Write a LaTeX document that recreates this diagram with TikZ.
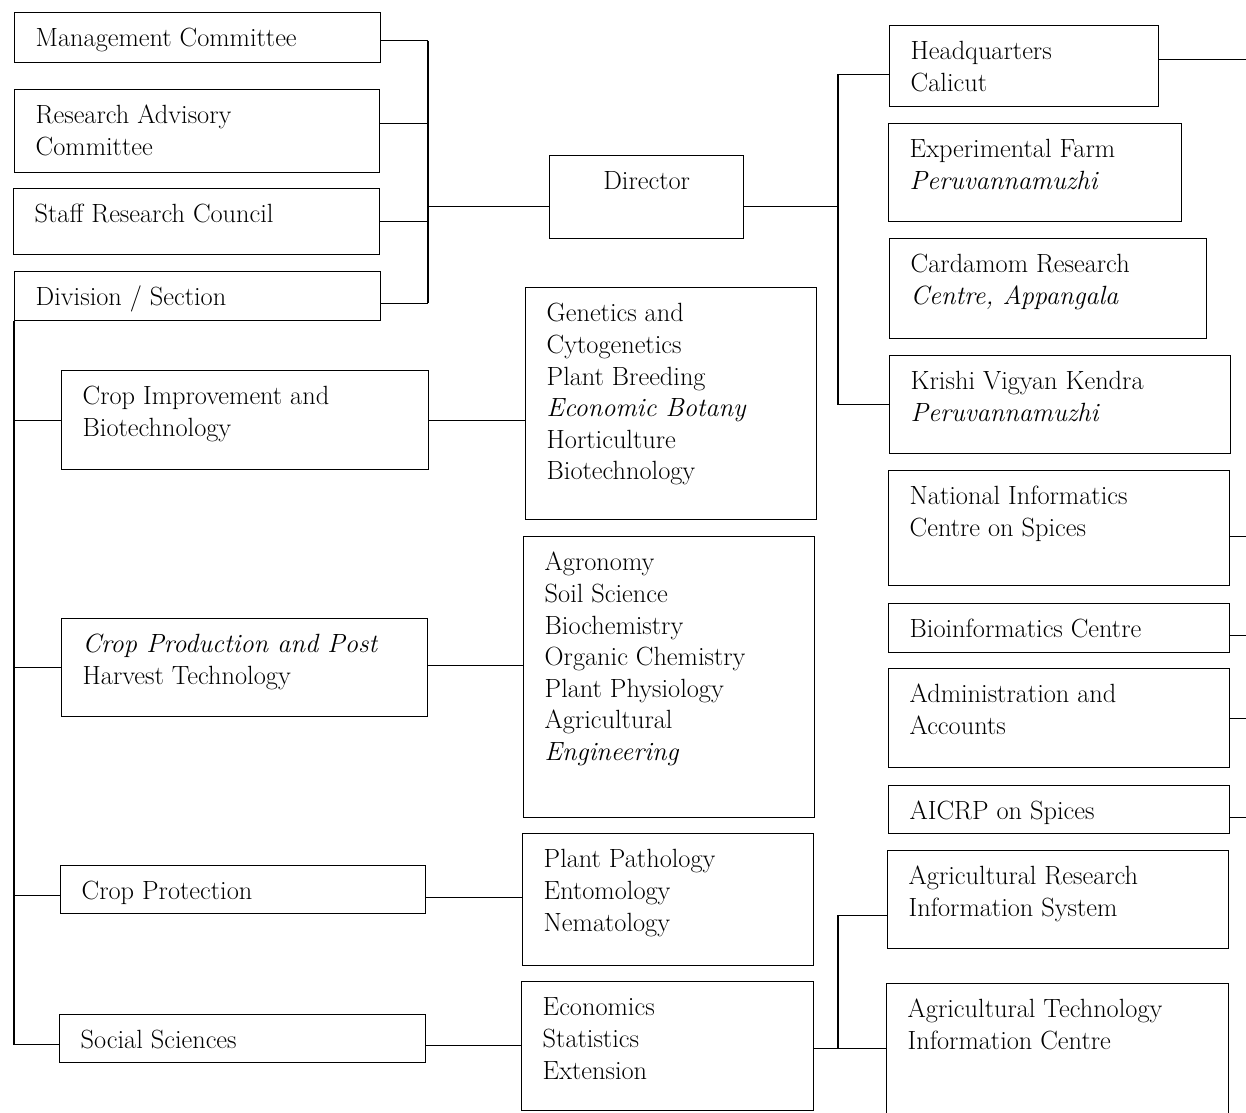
\documentclass[tikz,border=0pt]{standalone}
\usepackage{fontspec}
\usepackage{tikz}
\newdimen\px \px=0.02cm
\newcommand{\inbox}[3]{\parbox[t][#2\px][t]{#1\px}{\vspace*{12\px}\raggedright\leftskip=21\px\relax\strut#3}}
\tikzset{box/.style={draw, anchor=north west, inner sep=0pt, font=\fontsize{15}{18}\selectfont\addfontfeatures{LetterSpace=5}}}
\begin{document}
\begin{tikzpicture}[x=0.02cm, y=-0.02cm, line width=0.8pt]
\clip (0,0) rectangle (1246,1112);
% boxes: name / left / top / width / height / text
\foreach \n/\bx/\by/\bw/\bh/\txt in {
  mc/14/12/366/50/{Management Committee},
  rac/14/89/365/83/{Research Advisory\\Committee},
  src/13/188/366/66/{Staff Research Council},
  ds/14/271/366/49/{Division / Section},
  cib/61/370/367/99/{Crop Improvement and\\Biotechnology},
  cppht/61/618/366/98/{\textit{Crop Production and Post}\\Harvest Technology},
  cpr/60/865/365/48/{Crop Protection},
  ss/59/1014/366/48/{Social Sciences},
  gc/525/287/291/232/{Genetics and\\Cytogenetics\\Plant Breeding\\\textit{Economic Botany}\\Horticulture\\Biotechnology},
  cp/523/536/291/281/{Agronomy\\Soil Science\\Biochemistry\\Organic Chemistry\\Plant Physiology\\Agricultural\\\textit{Engineering}},
  pp/522/833/291/132/{Plant Pathology\\Entomology\\Nematology},
  econ/521/981/292/129/{Economics\\Statistics\\Extension},
  hq/889/25/269/81/{Headquarters\\Calicut},
  ef/888/123/293/98/{Experimental Farm\\\textit{Peruvannamuzhi}},
  crc/889/238/317/100/{Cardamom Research\\\textit{Centre, Appangala}},
  kvk/889/355/341/98/{Krishi Vigyan Kendra\\\textit{Peruvannamuzhi}},
  nics/888/470/341/115/{National Informatics\\Centre on Spices},
  bc/888/603/341/49/{Bioinformatics Centre},
  aa/888/668/341/99/{Administration and\\Accounts},
  aicrp/888/785/341/48/{AICRP on Spices},
  aris/887/850/341/98/{Agricultural Research\\Information System},
  atic/886/983/342/160/{Agricultural Technology\\Information Centre}}
  \node[box] (\n) at (\bx,\by) {\inbox{\bw}{\bh}{\txt}};
\node[box] (dir) at (549,155) {\parbox[t][83\px][t]{194\px}{\vspace*{12\px}\centering\strut Director}};

\coordinate (lb) at (428,0); \coordinate (rb) at (838,0); \coordinate (rim) at (1246,0);
% committees to director
\foreach \n/\s in {mc/-3,rac/8,src/0,ds/-7}
  \draw ([yshift=\s\px]\n.east) coordinate (t) -- (t -| lb);
\draw ([yshift=-3\px]mc.east -| lb) -- ([yshift=-7\px]ds.east -| lb);
\draw ([yshift=-9\px]dir.west) coordinate (dl) -- (dl -| lb);
% director to units
\draw ([yshift=-9\px]dir.east) coordinate (dr) -- (dr -| rb);
\draw ([yshift=-8\px]hq.west) -| (rb |- kvk.west) -- (kvk.west);
\foreach \n/\s in {hq/7,nics/-8,bc/-7,aa/0,aicrp/-8}
  \draw ([yshift=\s\px]\n.east) coordinate (t) -- (t -| rim);
% divisions
\draw (ds.south west) |- ([yshift=-6\px]ss.west);
\foreach \n/\s in {cib/0,cppht/0,cpr/-6}
  \draw ([yshift=\s\px]\n.west) coordinate (t) -- (t -| ds.west);
\foreach \a/\b/\s in {cib/gc/0,cppht/cp/2,cpr/pp/-8,ss/econ/-7}
  \draw ([yshift=\s\px]\a.east) coordinate (t) -- (t -| \b.west);
\draw ([yshift=-2\px]econ.east) coordinate (et) -- (et -| atic.west);
\draw ([yshift=-16\px]aris.west) -| (et -| rb);
\end{tikzpicture}
\end{document}
